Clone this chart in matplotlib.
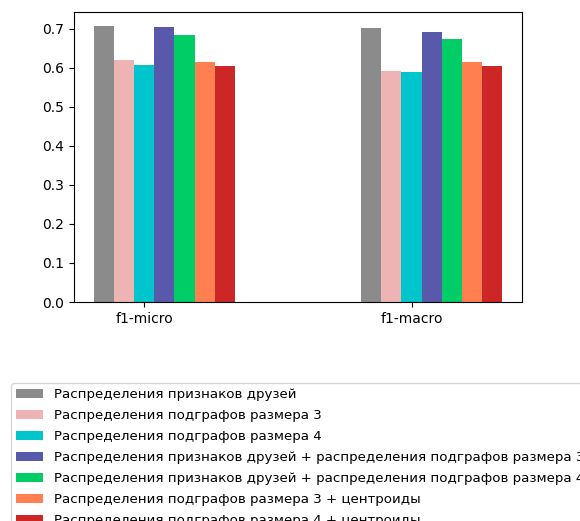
import matplotlib
matplotlib.use("Agg")
import matplotlib.pyplot as plt
import numpy as np

# ── data ──────────────────────────────────────────────────────────────────────
metrics = ["f1-micro", "f1-macro"]
labels = [
    "Распределения признаков друзей",
    "Распределения подграфов размера 3",
    "Распределения подграфов размера 4",
    "Распределения признаков друзей + распределения подграфов размера 3",
    "Распределения признаков друзей + распределения подграфов размера 4",
    "Распределения подграфов размера 3 + центроиды",
    "Распределения подграфов размера 4 + центроиды",
]
scores = [
    [0.707, 0.701],
    [0.619, 0.592],
    [0.606, 0.589],
    [0.703, 0.691],
    [0.683, 0.672],
    [0.615, 0.615],
    [0.604, 0.603],
]
colors = ["#8b8b8b", "#eeb4b4", "#00c5cd", "#5959ab", "#00cd66", "#ff7f50", "#cd2626"]

# ── plot ──────────────────────────────────────────────────────────────────────
fig = plt.figure(figsize=(5.80, 5.21), dpi=100)
ax = fig.add_axes([74 / 580, 1 - 302 / 521, 448 / 580, 290 / 521])

x = np.arange(len(metrics))
w = 0.075
for i, (lab, vals, col) in enumerate(zip(labels, scores, colors)):
    ax.bar(x + i * w, vals, width=w, color=col, label=lab)

ax.set_xticks(x + 2 * w)
ax.set_xticklabels(metrics)

ax.legend(loc="upper left", bbox_to_anchor=(-0.1406, -0.279),
          borderaxespad=0, fontsize=9.6, labelspacing=0.6)

fig.savefig("out.png", dpi=100)
